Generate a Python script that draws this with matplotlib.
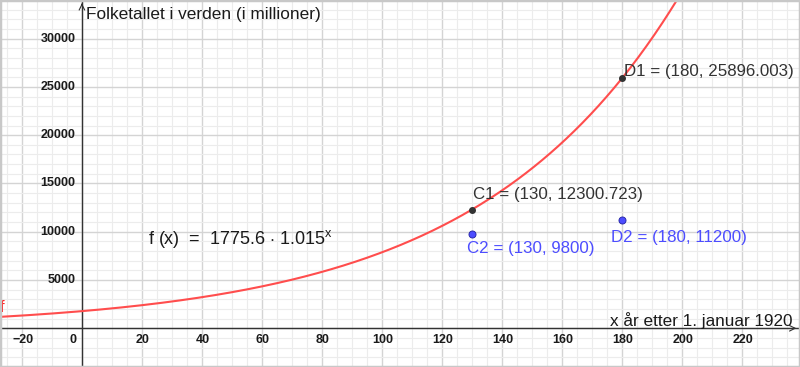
import numpy as np
import matplotlib
matplotlib.use("Agg")
import matplotlib.pyplot as plt
from matplotlib.patches import Rectangle

# ---- data ----
a_coef = 1775.6
b_base = 1.015
x_ticks = [-20, 0, 20, 40, 60, 80, 100, 120, 140, 160, 180, 200, 220]
y_ticks = [5000, 10000, 15000, 20000, 25000, 30000]
black_pts_x = [130, 180]
black_pts_y = [12300.723, 25896.003]
black_labels = ["C1 = (130, 12300.723)", "D1 = (180, 25896.003)"]
blue_pts_x = [130, 180]
blue_pts_y = [9800, 11200]
blue_labels = ["C2 = (130, 9800)", "D2 = (180, 11200)"]

xmin, xmax = -27.3, 239.3
ymin, ymax = -4010, 34000

plt.rcParams['font.family'] = ['Liberation Sans', 'DejaVu Sans']
plt.rcParams['mathtext.fontset'] = 'custom'
plt.rcParams['mathtext.rm'] = 'Liberation Sans'

fig = plt.figure(figsize=(8, 3.67), dpi=100)
ax = fig.add_axes([0, 0, 1, 1])
ax.set_xlim(xmin, xmax)
ax.set_ylim(ymin, ymax)
for s in ax.spines.values():
    s.set_visible(False)
ax.set_xticks([])
ax.set_yticks([])

# grid
for gx in np.arange(-25, 240, 5):
    major = (gx % 20 == 0)
    ax.axvline(gx, color="#d4d4d4" if major else "#ececec", lw=1.0 if major else 0.8, zorder=0)
for gy in np.arange(-4000, 34001, 1000):
    major = (gy % 5000 == 0)
    ax.axhline(gy, color="#d4d4d4" if major else "#ececec", lw=1.0 if major else 0.8, zorder=0)

# axes with arrows
axis_col = "#333333"
ax.plot([xmin, xmax - 0.5], [0, 0], color=axis_col, lw=1.0, zorder=2)
ax.plot([0, 0], [ymin, ymax], color=axis_col, lw=1.0, zorder=2)
ax.annotate("", xy=(xmax - 0.3, 0), xytext=(xmax - 3, 0),
            arrowprops=dict(arrowstyle="->", color=axis_col, lw=0.8), zorder=2)
ax.annotate("", xy=(0, ymax - 50), xytext=(0, ymax - 800),
            arrowprops=dict(arrowstyle="->", color=axis_col, lw=0.8), zorder=2)

# tick labels
tick_font = dict(fontsize=9, color="#1a1a1a", fontweight="bold")
for t in x_ticks:
    lab = "\u221220" if t < 0 else str(t)
    if t == 0:
        ax.text(t - 3, -1250, lab, ha="center", va="center", **tick_font)
    else:
        ax.text(t + 0.3, -1250, lab, ha="center", va="center", **tick_font)
for t in y_ticks:
    ax.text(-2.2, t, str(t), ha="right", va="center", **tick_font)

# axis labels
ax.text(1.3, 32450, "Folketallet i verden (i millioner)", fontsize=12.4, color="#1a1a1a",
        ha="left", va="center")
ax.text(236.8, 800, "x år etter 1. januar 1920", fontsize=12.3, color="#1a1a1a",
        ha="right", va="center")

# curve
xs = np.linspace(xmin, xmax, 600)
ys = a_coef * b_base ** xs
ax.plot(xs, ys, color="#ff4d4d", lw=1.5, zorder=3, clip_on=True)
ax.text(-27.4, 2150, "f", color="#ff2020", fontsize=12, ha="left", va="center")

ax.text(22, 9250, r"f (x)  =  1775.6 $\cdot$ 1.015$^{\mathregular{x}}$", fontsize=13,
        color="#1a1a1a", ha="left", va="center")

# points
ax.scatter(black_pts_x, black_pts_y, s=16, color="#333333", zorder=5)
ax.scatter(blue_pts_x, blue_pts_y, s=26, color="#4d4dff", edgecolors="#2020a0",
           linewidths=0.6, zorder=5)
lab_font = dict(fontsize=12.2, ha="left", va="center")
ax.text(130.2, 13900, black_labels[0], color="#333333", **lab_font)
ax.text(180.8, 26550, black_labels[1], color="#333333", **lab_font)
ax.text(128.3, 8300, blue_labels[0], color="#4d4dff", **lab_font)
ax.text(176.2, 9450, blue_labels[1], color="#4d4dff", **lab_font)

# border
fig.patches.append(Rectangle((0, 0), 1, 1, transform=fig.transFigure, fill=False,
                             edgecolor="#c8c8c8", lw=2.5))

fig.savefig("out.png", dpi=100)
